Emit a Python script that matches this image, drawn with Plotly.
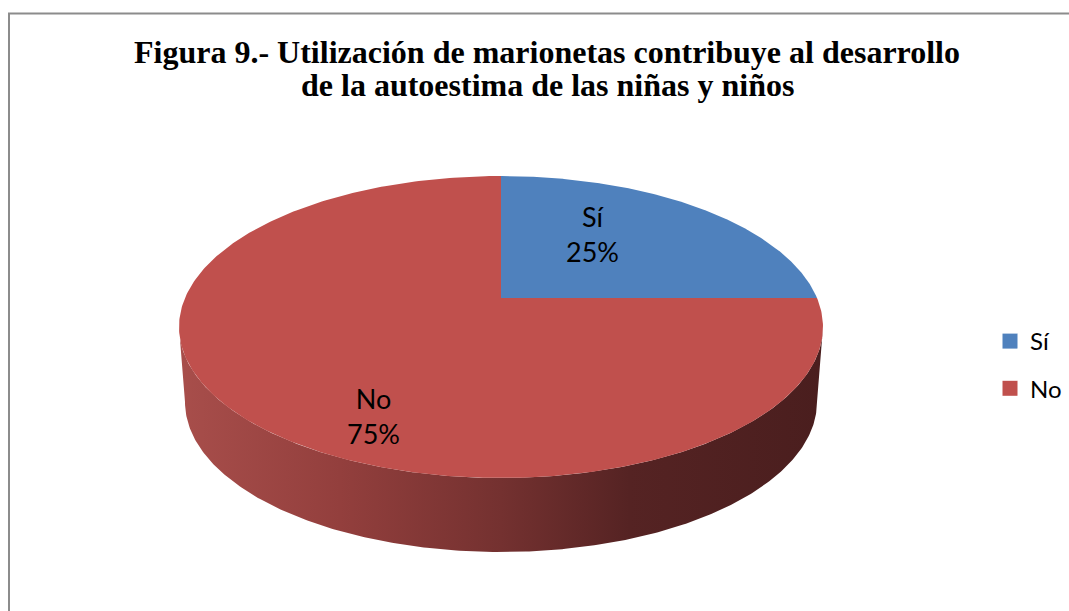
import numpy as np
import plotly.graph_objects as go

# ---- data ----
labels = ["Sí", "No"]
values = [25, 75]
colors = ["#4f81bd", "#c0504d"]
title_lines = ["Figura 9.- Utilización de marionetas contribuye al desarrollo",
               "de la autoestima de las niñas y niños"]

# ---- page geometry (window pixels) ----
W, H = 1069, 611


def px(X):
    return X / W


def py(Y):
    return 1 - Y / H


cx, cy, rx, ry = 501, 327, 322, 151          # top face ellipse
ax_, ay_ = 501, 298                           # projected pie centre (apex)
bcx, bcy, brx, bry = 501, 402, 316, 150       # bottom rim ellipse
label_pos = [(592, 234), (373, 416)]

t = np.linspace(-2.5 * np.pi, 1.5 * np.pi, 8001)
ex = cx + rx * np.cos(t)
ey = cy - ry * np.sin(t)
ang = np.unwrap(np.arctan2(-(ey - ay_) / ry, (ex - ax_) / rx))
i90 = np.argmin(np.abs(t - np.pi / 2))
ang = ang - (ang[i90] - np.pi / 2)


def ang_to_t(a):
    return np.interp(a, ang, t)


fig = go.Figure()

total = sum(values)
start = np.pi / 2
slices = []
for lab, v, c in zip(labels, values, colors):
    end = start - 2 * np.pi * v / total
    slices.append((lab, start, end, c))
    start = end

# side walls (front half only)
for lab, a0, a1, c in slices:
    lo, hi = min(a0, a1), max(a0, a1)
    for k in range(-1, 2):
        f_lo, f_hi = -np.pi + 2 * np.pi * k, 0 + 2 * np.pi * k
        s_lo, s_hi = max(lo, f_lo), min(hi, f_hi)
        if s_hi - s_lo <= 1e-6:
            continue
        tt = np.linspace(s_lo, s_hi, 300)
        xs = np.concatenate([cx + rx * np.cos(tt), (bcx + brx * np.cos(tt))[::-1]])
        ys = np.concatenate([cy - ry * np.sin(tt), (bcy - bry * np.sin(tt))[::-1]])
        fig.add_trace(go.Scatter(
            x=xs, y=ys, mode="lines", fill="toself", line=dict(width=0),
            fillgradient=dict(type="horizontal", colorscale=[
                [0, "#a84e4b"], [0.25, "#933f3d"], [0.5, "#743130"],
                [0.7, "#552323"], [1, "#4a1e1e"]]),
            showlegend=False, hoverinfo="skip"))

# top faces
for lab, a0, a1, c in slices:
    t0, t1 = ang_to_t(a0), ang_to_t(a1)
    tt = np.linspace(t0, t1, 400)
    xs = np.concatenate([[ax_], cx + rx * np.cos(tt), [ax_]])
    ys = np.concatenate([[ay_], cy - ry * np.sin(tt), [ay_]])
    fig.add_trace(go.Scatter(x=xs, y=ys, mode="lines", fill="toself",
                             fillcolor=c, line=dict(width=0, color=c),
                             showlegend=False, hoverinfo="skip"))

# legend entries
for lab, c in zip(labels, colors):
    fig.add_trace(go.Scatter(x=[None], y=[None], mode="markers", name=lab,
                             legendgroup=lab,
                             marker=dict(symbol="square", size=15, color=c)))

# slice labels
for (lab, v), (lx, ly) in zip(zip(labels, values), label_pos):
    fig.add_annotation(x=lx, y=ly, text=f"{lab}<br>{round(100 * v / total)}%",
                       showarrow=False, font=dict(family="Lato", size=27, color="black"),
                       xanchor="center", yanchor="middle")

# title (two lines, tight spacing)
for line, Y in zip(title_lines, [52, 85]):
    fig.add_annotation(x=px(547), y=py(Y), xref="paper", yref="paper",
                       text=f"<b>{line}</b>", showarrow=False,
                       xanchor="center", yanchor="middle",
                       font=dict(family="Liberation Serif", size=32, color="black"))

fig.update_layout(
    width=W, height=H,
    margin=dict(l=0, r=0, t=0, b=0),
    paper_bgcolor="white", plot_bgcolor="white",
    xaxis=dict(range=[0, W], visible=False, fixedrange=True),
    yaxis=dict(range=[H, 0], visible=False, fixedrange=True),
    legend=dict(x=px(990), y=py(319), xanchor="left", yanchor="top",
                font=dict(family="Lato", size=24, color="black"),
                tracegroupgap=13, bgcolor="rgba(0,0,0,0)"),
    shapes=[dict(type="rect", xref="paper", yref="paper",
                 x0=px(9), x1=1.05, y0=-0.05, y1=py(13.5),
                 line=dict(color="#8c8c8c", width=2), fillcolor="rgba(0,0,0,0)")],
)

fig.write_html("out.html", config={"displayModeBar": False},
               post_script="document.body.style.margin='0';document.body.style.overflow='hidden';")
